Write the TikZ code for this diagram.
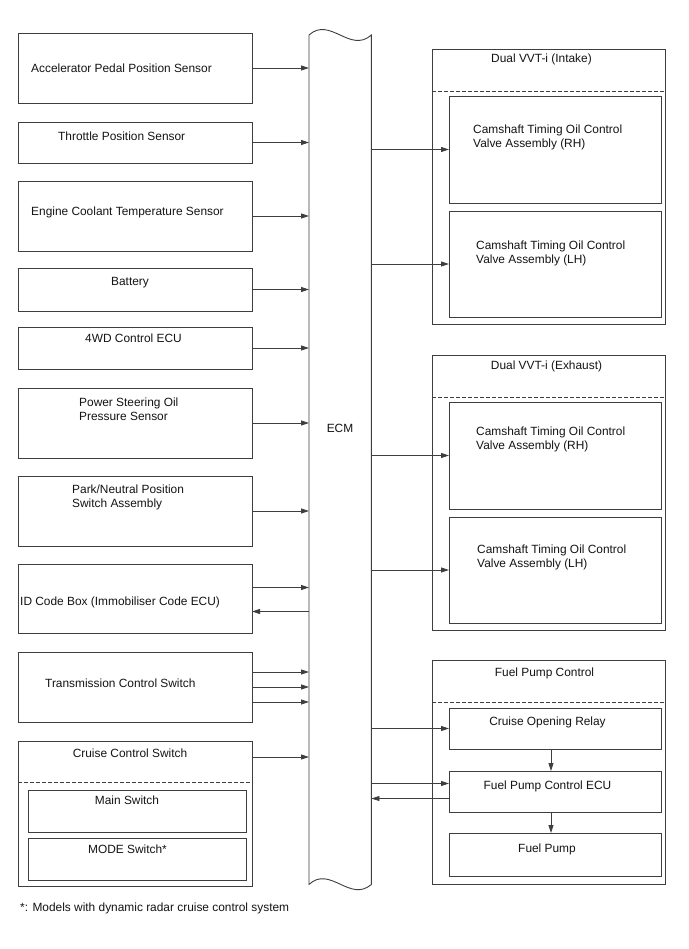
\documentclass[tikz,border=0pt]{standalone}
\usepackage{fontspec}
\setmainfont{Liberation Sans}
\usepackage{tikz}
\usetikzlibrary{arrows.meta,positioning,calc}
\definecolor{lineGray}{RGB}{62, 62, 62}
\definecolor{inkBlack}{RGB}{20, 20, 20}

\tikzset{
    blk/.style={draw=lineGray, line width=0.9pt, inner sep=0pt, outer sep=0pt, anchor=north west},
    txt/.style={font=\fontsize{11.9pt}{14pt}\selectfont, text=inkBlack, inner sep=0pt, anchor=base west, align=left},
    ctxt/.style={txt, anchor=base, align=center},
    sig/.style={draw=lineGray, line width=0.8pt, -{Triangle[length=8pt,width=5pt]}},
    sep/.style={draw=lineGray, line width=0.8pt, dash pattern=on 3.5pt off 2.5pt}
}

\begin{document}
\begin{tikzpicture}[x=1pt, y=-1pt]
    \useasboundingbox[fill=white] (0,0) rectangle (688,949);

    % inputs
    \node[blk, minimum width=234pt, minimum height=70pt] (accel) at (18,33) {};
    \node[txt] (accelTxt) at (31,73) {Accelerator Pedal Position Sensor};
    \node[blk, minimum width=234pt, minimum height=41pt] (throttle) at (18,122) {};
    \node[txt] (throttleTxt) at (58,141) {Throttle Position Sensor};
    \node[blk, minimum width=234pt, minimum height=70pt] (coolant) at (18,181) {};
    \node[txt] (coolantTxt) at (31,216) {Engine Coolant Temperature Sensor};
    \node[blk, minimum width=234pt, minimum height=43pt] (battery) at (18,268) {};
    \node[ctxt] (batteryTxt) at (130,285) {Battery};
    \node[blk, minimum width=234pt, minimum height=42pt] (fwd) at (18,327) {};
    \node[txt] (fwdTxt) at (85,342) {4WD Control ECU};
    \node[blk, minimum width=234pt, minimum height=70pt] (pss) at (18,388) {};
    \node[txt] (pssTxt) at (79,420) {Power Steering Oil\\Pressure Sensor};
    \node[blk, minimum width=234pt, minimum height=70pt] (pnp) at (18,476) {};
    \node[txt] (pnpTxt) at (72,507) {Park/Neutral Position\\Switch Assembly};
    \node[blk, minimum width=234pt, minimum height=69pt] (idbox) at (18,564) {};
    \node[txt] (idboxTxt) at (20,605) {ID Code Box (Immobiliser Code ECU)};
    \node[blk, minimum width=234pt, minimum height=70pt] (trans) at (18,652) {};
    \node[txt] (transTxt) at (45,687) {Transmission Control Switch};
    \node[blk, minimum width=234pt, minimum height=145pt] (ccs) at (18,741) {};
    \node[ctxt] (ccsTxt) at (130,757) {Cruise Control Switch};
    \draw[sep] ([yshift=-41pt]ccs.north west) -- ([yshift=-41pt]ccs.north east);
    \node[blk, minimum width=218pt, minimum height=42pt] (mainsw) at (28,790) {};
    \node[ctxt] (mainswTxt) at (127,804) {Main Switch};
    \node[blk, minimum width=218pt, minimum height=42pt] (modesw) at (28,838) {};
    \node[ctxt] (modeswTxt) at (127.5,853) {MODE Switch*};

    % ECM
    \node[minimum width=62pt, minimum height=849pt, inner sep=0pt, anchor=north west] (ecm) at (309,35) {};
    \draw[lineGray, line width=0.9pt] (ecm.north west) .. controls (330,16) and (350,54) .. (ecm.north east)
        -- (ecm.south east) .. controls (350,903) and (330,865) .. (ecm.south west) -- cycle;
    \node[ctxt] (ecmTxt) at (340,432) {ECM};

    % Dual VVT-i (Intake)
    \node[blk, minimum width=233pt, minimum height=275pt] (vvtIn) at (432,49) {};
    \node[ctxt] (vvtInTxt) at (541.5,63) {Dual VVT-i (Intake)};
    \draw[sep] ([yshift=-42pt]vvtIn.north west) -- ([yshift=-42pt]vvtIn.north east);
    \node[blk, minimum width=212pt, minimum height=107pt] (inRH) at (449,96) {};
    \node[txt] (inRHTxt) at (473,148) {Camshaft Timing Oil Control\\Valve Assembly (RH)};
    \node[blk, minimum width=212pt, minimum height=106pt] (inLH) at (449,211) {};
    \node[txt] (inLHTxt) at (476,264) {Camshaft Timing Oil Control\\Valve Assembly (LH)};

    % Dual VVT-i (Exhaust)
    \node[blk, minimum width=233pt, minimum height=275pt] (vvtEx) at (432,355) {};
    \node[ctxt] (vvtExTxt) at (546.5,369) {Dual VVT-i (Exhaust)};
    \draw[sep] ([yshift=-42pt]vvtEx.north west) -- ([yshift=-42pt]vvtEx.north east);
    \node[blk, minimum width=212pt, minimum height=107pt] (exRH) at (449,402) {};
    \node[txt] (exRHTxt) at (476,449) {Camshaft Timing Oil Control\\Valve Assembly (RH)};
    \node[blk, minimum width=212pt, minimum height=106pt] (exLH) at (449,517) {};
    \node[txt] (exLHTxt) at (477,567) {Camshaft Timing Oil Control\\Valve Assembly (LH)};

    % Fuel Pump Control
    \node[blk, minimum width=233pt, minimum height=224pt] (fpc) at (432,660) {};
    \node[ctxt] (fpcTxt) at (544.5,676) {Fuel Pump Control};
    \draw[sep] ([yshift=-42pt]fpc.north west) -- ([yshift=-42pt]fpc.north east);
    \node[blk, minimum width=212pt, minimum height=41pt] (relay) at (449,708) {};
    \node[ctxt] (relayTxt) at (547.5,725) {Cruise Opening Relay};
    \node[blk, minimum width=212pt, minimum height=41pt] (fpecu) at (449,771) {};
    \node[ctxt] (fpecuTxt) at (547.5,789) {Fuel Pump Control ECU};
    \node[blk, minimum width=212pt, minimum height=43pt] (fpump) at (449,833) {};
    \node[ctxt] (fpumpTxt) at (547,852) {Fuel Pump};

    % signals into ECM
    \foreach \src in {accel,throttle,coolant,battery,fwd,pss,pnp}
        \draw[sig] (\src.east) -- (\src.east -| ecm.west);
    \draw[sig] ([yshift=11pt]idbox.east) -- ([yshift=11pt]idbox.east -| ecm.west);
    \draw[sig] ([yshift=-13pt]idbox.east -| ecm.west) -- ([yshift=-13pt]idbox.east);
    \foreach \dy in {15,0,-15}
        \draw[sig] ([yshift=\dy pt]trans.east) -- ([yshift=\dy pt]trans.east -| ecm.west);
    \draw[sig] ([yshift=-16pt]ccs.north east) -- ([yshift=-16pt]ccs.north east -| ecm.west);

    % signals out of ECM
    \foreach \dst in {inRH,inLH,exRH,exLH,relay}
        \draw[sig] (\dst.west -| ecm.east) -- (\dst.west);
    \draw[sig] ([yshift=8pt]fpecu.west -| ecm.east) -- ([yshift=8pt]fpecu.west);
    \draw[sig] ([yshift=-7pt]fpecu.west) -- ([yshift=-7pt]fpecu.west -| ecm.east);
    \draw[sig] ([xshift=-4pt]relay.south) -- ([xshift=-4pt]fpecu.north);
    \draw[sig] ([xshift=-4pt]fpecu.south) -- ([xshift=-4pt]fpump.north);

    \node[txt] (note) at (20,911.5) {*: Models with dynamic radar cruise control system};
\end{tikzpicture}
\end{document}
